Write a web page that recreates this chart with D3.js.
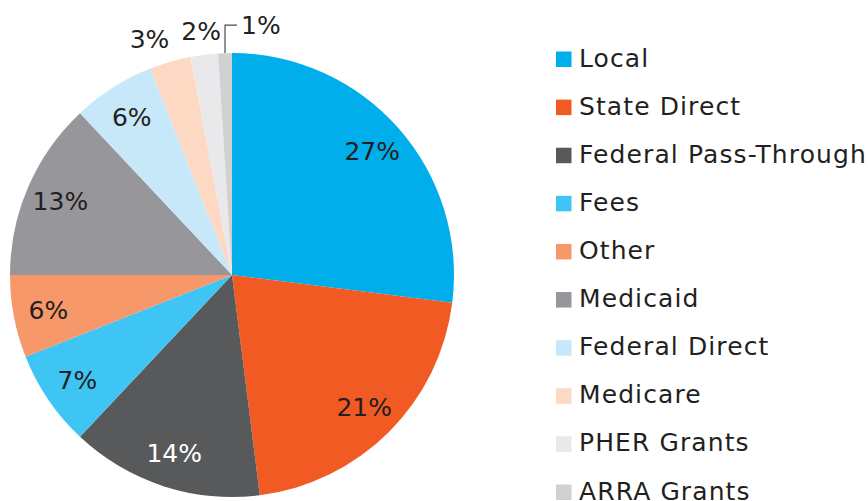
<!DOCTYPE html>
<html>
<head>
<meta charset="utf-8">
<script src="https://cdn.jsdelivr.net/npm/d3@7"></script>
<style>
  body { margin: 0; background: #fff; }
  text { font-family: 'DejaVu Sans', sans-serif; }
</style>
</head>
<body>
<svg id="chart" width="868" height="501"></svg>
<script>
'use strict';

// ─── Data ────────────────────────────────────────────────────────────────────
const categories = ['Local', 'State Direct', 'Federal Pass-Through', 'Fees', 'Other',
                    'Medicaid', 'Federal Direct', 'Medicare', 'PHER Grants', 'ARRA Grants'];
const shares     = [27, 21, 14, 7, 6, 13, 6, 3, 2, 1];
const colors     = ['#00aeeb', '#f15a22', '#58595b', '#3ec5f3', '#f6986a',
                    '#97979b', '#c6e8f8', '#fdd9c4', '#e9e9eb', '#d0d1d3'];

// ─── Layout ──────────────────────────────────────────────────────────────────
const CX = 232, CY = 275, R = 222;
const LABEL_R = 187;        // labels inside the slices
const OUTER_LABEL_R = 246;  // labels for tiny slices, outside the pie
const TEXT = '#231f20';

const svg = d3.select('#chart');
const g = svg.append('g').attr('transform', `translate(${CX},${CY})`);

const pie = d3.pie().sort(null).value(d => d.v);
const arcs = pie(categories.map((c, i) => ({ c, v: shares[i], i })));

const arc = d3.arc().innerRadius(0).outerRadius(R);
const color = d3.scaleOrdinal().domain(categories).range(colors);

g.selectAll('path.slice')
  .data(arcs)
  .join('path')
  .attr('class', 'slice')
  .attr('d', arc)
  .attr('fill', d => color(d.data.c));

// point on a circle at a pie angle (0 = 12 o'clock, clockwise)
const polar = (a, r) => [r * Math.sin(a), -r * Math.cos(a)];
const mid = d => (d.startAngle + d.endAngle) / 2;

// ─── Slice labels ────────────────────────────────────────────────────────────
const outerLabels = [];
arcs.forEach(d => {
  const v = d.data.v;
  if (v === 1) return; // handled with a leader line below
  const outer = v <= 3;
  const [x, y] = polar(mid(d), outer ? OUTER_LABEL_R : LABEL_R);
  const t = g.append('text')
    .attr('x', x).attr('y', y)
    .attr('dy', '0.36em')
    .attr('text-anchor', 'middle')
    .attr('font-size', 25)
    .attr('fill', d.data.c === 'Federal Pass-Through' ? '#ffffff' : TEXT)
    .text(`${v}%`);
  if (outer) outerLabels.push({ t, x, a: mid(d) });
});

// keep the small outside labels apart: push leftwards from the rightmost one
outerLabels.sort((a, b) => b.a - a.a);
for (let i = 1; i < outerLabels.length; i++) {
  const right = outerLabels[i - 1], cur = outerLabels[i];
  const wR = right.t.node().getComputedTextLength();
  const wC = cur.t.node().getComputedTextLength();
  const maxX = right.x - wR / 2 - 12 - wC / 2;
  if (cur.x > maxX) { cur.x = maxX; cur.t.attr('x', maxX); }
}

// 1% slice: leader line up from the arc, then right
arcs.filter(d => d.data.v === 1).forEach(d => {
  const [x0, y0] = polar(mid(d), R);
  const yTop = y0 - 28;
  g.append('path')
    .attr('d', `M${x0},${y0}V${yTop}H${x0 + 12}`)
    .attr('fill', 'none')
    .attr('stroke', '#4a4a4c')
    .attr('stroke-width', 1.2);
  g.append('text')
    .attr('x', x0 + 16).attr('y', yTop)
    .attr('dy', '0.36em')
    .attr('font-size', 25)
    .attr('fill', TEXT)
    .text(`${d.data.v}%`);
});

// ─── Legend ──────────────────────────────────────────────────────────────────
const legendY = d3.scalePoint().domain(categories).range([66.5, 499.5]);

const item = svg.append('g').selectAll('g')
  .data(categories)
  .join('g')
  .attr('transform', c => `translate(556,${legendY(c)})`);

item.append('rect')
  .attr('x', 0).attr('y', -15)
  .attr('width', 15.5).attr('height', 15.5)
  .attr('fill', c => color(c));

item.append('text')
  .attr('x', 23).attr('y', 0)
  .attr('font-size', 25)
  .attr('letter-spacing', 1.1)
  .attr('fill', TEXT)
  .text(c => c);
</script>
</body>
</html>
